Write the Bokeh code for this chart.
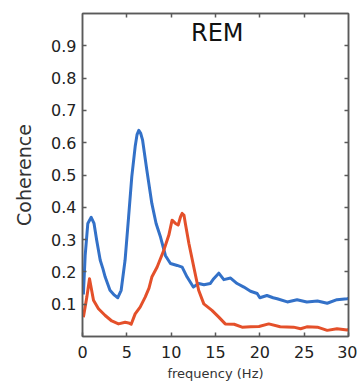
from bokeh.plotting import figure
from bokeh.models import Range1d, LinearAxis, FixedTicker, Label
from bokeh.embed import file_html
from bokeh.resources import INLINE

# ---- data ----
freq_blue = [0.1, 0.3, 0.6, 0.98, 1.3, 1.6, 2.0, 2.3, 2.56, 3.1, 3.6, 3.98, 4.36,
             4.8, 5.2, 5.56, 5.94, 6.15, 6.35, 6.55, 6.77, 7.25, 7.82, 8.3, 8.8,
             9.36, 9.92, 10.68, 11.24, 11.8, 12.5, 13.1, 13.7, 14.4, 14.8, 15.37,
             15.94, 16.7, 17.44, 18.2, 18.95, 19.7, 20.0, 20.8, 21.5, 21.96, 23.1,
             24.2, 25.3, 26.5, 27.6, 28.7, 29.85, 30.0]
coh_blue = [0.13, 0.25, 0.35, 0.369, 0.35, 0.298, 0.236, 0.21, 0.184, 0.143, 0.128,
            0.120, 0.143, 0.236, 0.37, 0.495, 0.588, 0.625, 0.638, 0.63, 0.609,
            0.516, 0.412, 0.35, 0.308, 0.25, 0.226, 0.22, 0.215, 0.184, 0.153,
            0.164, 0.16, 0.164, 0.179, 0.196, 0.176, 0.181, 0.164, 0.153, 0.14,
            0.133, 0.12, 0.127, 0.12, 0.117, 0.107, 0.114, 0.107, 0.11, 0.103,
            0.114, 0.117, 0.118]

freq_red = [0.1, 0.49, 0.79, 1.24, 1.8, 2.56, 3.3, 4.06, 4.81, 5.2, 5.49, 5.94,
            6.5, 7.07, 7.5, 7.82, 8.42, 9.17, 9.74, 10.1, 10.49, 10.79, 11.05,
            11.24, 11.45, 11.6, 12.0, 12.55, 13.1, 13.68, 14.6, 15.37, 16.1, 17.1,
            18.0, 18.95, 19.9, 21.0, 22.3, 23.8, 24.6, 25.3, 26.5, 27.6, 28.7,
            29.85, 30.0]
coh_red = [0.06, 0.122, 0.179, 0.112, 0.086, 0.065, 0.048, 0.039, 0.044, 0.042,
           0.038, 0.07, 0.091, 0.122, 0.15, 0.184, 0.215, 0.267, 0.314, 0.36, 0.35,
           0.345, 0.37, 0.381, 0.375, 0.35, 0.288, 0.215, 0.143, 0.101, 0.081,
           0.06, 0.039, 0.038, 0.029, 0.03, 0.031, 0.039, 0.03, 0.029, 0.024, 0.03,
           0.029, 0.019, 0.024, 0.02, 0.022]

x_ticks = [0, 5, 10, 15, 20, 25, 30]
y_ticks = [0.1, 0.2, 0.3, 0.4, 0.5, 0.6, 0.7, 0.8, 0.9]
title_text = "REM"
x_label = "frequency (Hz)"
y_label = "Coherence"

FONT = "DejaVu Sans"
AXIS_COLOR = "#5a5a5a"

p = figure(width=357, height=385, output_backend="svg", toolbar_location=None,
           x_range=Range1d(0, 30), y_range=Range1d(0, 1.0),
           min_border_left=82, min_border_right=9, min_border_top=13,
           min_border_bottom=49, x_axis_location=None, y_axis_location=None)
p.outline_line_color = AXIS_COLOR
p.outline_line_width = 1.5
p.grid.visible = False
p.background_fill_color = "white"
p.border_fill_color = "white"


def style_axis(ax, labels=True):
    ax.axis_line_color = AXIS_COLOR
    ax.axis_line_width = 1.5
    ax.major_tick_line_color = AXIS_COLOR
    ax.major_tick_line_width = 1.5
    ax.major_tick_in = 4
    ax.major_tick_out = 0
    ax.minor_tick_line_color = None
    ax.major_label_text_font = FONT
    ax.major_label_text_font_size = "16px"
    ax.major_label_text_color = "#222222"
    if not labels:
        ax.major_label_text_font_size = "0px"
        ax.major_label_text_color = None
        ax.major_label_standoff = 0


bottom = LinearAxis(ticker=FixedTicker(ticks=x_ticks))
style_axis(bottom)
bottom.major_label_standoff = 9
bottom.axis_label = x_label
bottom.axis_label_text_font = FONT
bottom.axis_label_text_font_size = "13px"
bottom.axis_label_text_font_style = "normal"
bottom.axis_label_text_color = "#333333"
bottom.axis_label_standoff = 5
p.add_layout(bottom, "below")

left = LinearAxis(ticker=FixedTicker(ticks=y_ticks))
style_axis(left)
left.major_label_standoff = 6
left.axis_label = y_label
left.axis_label_text_font = FONT
left.axis_label_text_font_size = "19px"
left.axis_label_text_font_style = "normal"
left.axis_label_text_color = "#333333"
left.axis_label_standoff = 13
p.add_layout(left, "left")

top = LinearAxis(ticker=FixedTicker(ticks=x_ticks[1:-1]))
style_axis(top, labels=False)
p.add_layout(top, "above")

right = LinearAxis(ticker=FixedTicker(ticks=y_ticks))
style_axis(right, labels=False)
p.add_layout(right, "right")

p.line(freq_blue, coh_blue, line_color="#3371c8", line_width=3, line_join="round")
p.line(freq_red, coh_red, line_color="#e4502a", line_width=3, line_join="round")

p.add_layout(Label(x=15.2, y=0.94, text=title_text, text_font=FONT,
                   text_font_size="24px", text_color="#111111",
                   text_align="center", text_baseline="middle"))

open("out.html", "w").write(file_html(p, INLINE))
